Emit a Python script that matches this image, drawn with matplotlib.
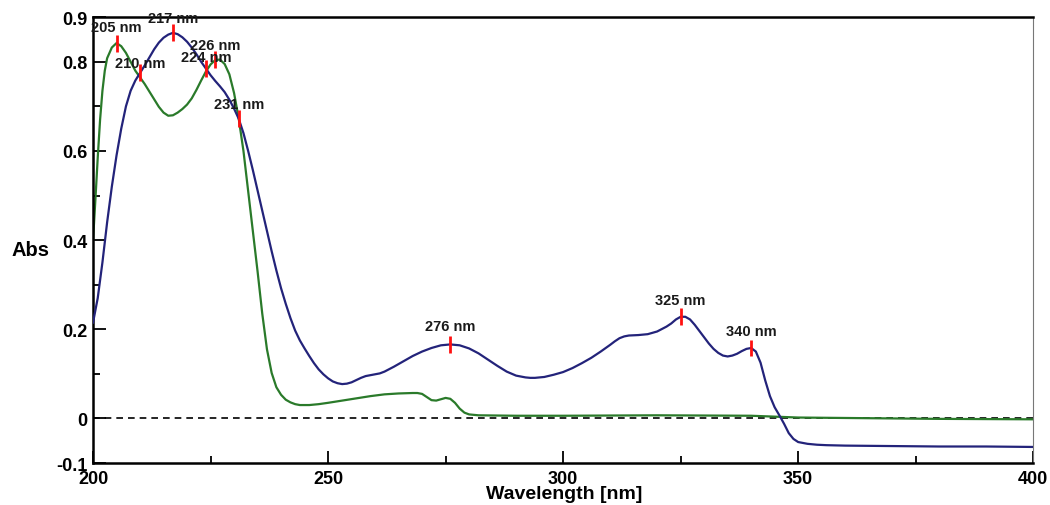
import matplotlib
matplotlib.use("Agg")
import matplotlib.pyplot as plt
from matplotlib.ticker import MultipleLocator, FixedLocator

plt.rcParams['font.family'] = ['Liberation Sans', 'DejaVu Sans']

# blue spectrum (wavelength nm, absorbance)
blue_nm = [200, 201, 202, 203, 204, 205, 206, 207, 208, 209, 210, 211, 212, 213, 214, 215,
           216, 217, 218, 219, 220, 221, 222, 223, 224, 225, 226, 227, 228, 229, 230, 231,
           232, 233, 234, 235, 236, 237, 238, 239, 240, 241, 242, 243, 244, 245, 246, 247,
           248, 249, 250, 251, 252, 253, 254, 255, 256, 257, 258, 259, 260, 261, 262, 264,
           266, 268, 270, 272, 274, 276, 278, 280, 282, 284, 286, 288, 290, 292, 293, 294,
           296, 298, 300, 302, 304, 306, 308, 310, 311, 312, 313, 314, 316, 318, 320, 322,
           323, 324, 325, 326, 327, 328, 329, 330, 331, 332, 333, 334, 335, 336, 337, 338,
           339, 340, 341, 342, 343, 344, 345, 346, 347, 348, 349, 350, 352, 354, 356, 360,
           370, 380, 390, 400]
blue_abs = [0.215, 0.27, 0.35, 0.44, 0.52, 0.59, 0.65, 0.70, 0.735, 0.758, 0.775, 0.792, 0.81, 0.828, 0.843, 0.854,
            0.861, 0.865, 0.862, 0.855, 0.845, 0.832, 0.817, 0.80, 0.785, 0.77, 0.757, 0.745, 0.732, 0.715, 0.695, 0.672,
            0.64, 0.60, 0.557, 0.512, 0.466, 0.42, 0.375, 0.332, 0.292, 0.257, 0.225, 0.197, 0.175, 0.157, 0.14, 0.124,
            0.11, 0.099, 0.09, 0.083, 0.079, 0.077, 0.078, 0.081, 0.086, 0.091, 0.095, 0.097, 0.099, 0.101, 0.105, 0.116,
            0.128, 0.14, 0.15, 0.158, 0.164, 0.166, 0.164, 0.157, 0.146, 0.132, 0.118, 0.105, 0.096, 0.092, 0.091, 0.091,
            0.093, 0.098, 0.104, 0.113, 0.124, 0.136, 0.15, 0.165, 0.173, 0.18, 0.184, 0.186, 0.187, 0.189, 0.195, 0.206,
            0.213, 0.222, 0.228, 0.228, 0.222, 0.21, 0.196, 0.182, 0.168, 0.156, 0.147, 0.141, 0.139, 0.141, 0.145, 0.151,
            0.156, 0.158, 0.15, 0.125, 0.085, 0.05, 0.025, 0.007, -0.012, -0.033, -0.046, -0.053, -0.057, -0.059, -0.060, -0.061,
            -0.062, -0.063, -0.063, -0.064]

# green spectrum
green_nm = [200, 200.5, 201, 201.5, 202, 202.5, 203, 204, 205, 206, 207, 208, 209, 210, 211, 212,
            213, 214, 215, 216, 217, 218, 219, 220, 221, 222, 223, 224, 225, 226, 227, 228,
            229, 230, 231, 232, 233, 234, 235, 236, 237, 238, 239, 240, 241, 242, 243, 244,
            246, 248, 250, 253, 256, 259, 262, 265, 268, 269, 270, 271, 272, 273, 274, 275,
            276, 277, 278, 279, 280, 282, 290, 300, 320, 340, 345, 350, 360, 370, 380, 400]
green_abs = [0.40, 0.49, 0.585, 0.67, 0.735, 0.78, 0.808, 0.832, 0.842, 0.835, 0.82, 0.80, 0.78, 0.765, 0.75, 0.733,
             0.716, 0.699, 0.686, 0.679, 0.68, 0.686, 0.694, 0.704, 0.718, 0.737, 0.758, 0.778, 0.794, 0.804, 0.805, 0.795,
             0.772, 0.73, 0.672, 0.60, 0.51, 0.42, 0.33, 0.235, 0.155, 0.102, 0.07, 0.053, 0.042, 0.036, 0.032, 0.030,
             0.030, 0.032, 0.035, 0.040, 0.045, 0.050, 0.054, 0.056, 0.057, 0.057, 0.055, 0.048, 0.041, 0.040, 0.043, 0.046,
             0.044, 0.035, 0.022, 0.013, 0.009, 0.007, 0.006, 0.006, 0.007, 0.006, 0.004, 0.002, 0.001, 0.0, -0.001, -0.002]

# peak picks: marker position, label position
peak_nm = [205, 217, 210, 226, 224, 231, 276, 325, 340]
peak_abs = [0.842, 0.865, 0.775, 0.805, 0.785, 0.672, 0.166, 0.228, 0.158]
label_abs = [0.878, 0.899, 0.797, 0.838, 0.811, 0.705, 0.207, 0.265, 0.196]

fig = plt.figure(figsize=(10.5, 5.06), dpi=100)
ax = fig.add_axes([0.0886, 0.083, 0.8954, 0.881])

ax.axhline(0, color='black', lw=1.2, ls=(0, (4, 3)), zorder=1)
ax.plot(green_nm, green_abs, color='#2a7a2a', lw=1.6, zorder=2)
ax.plot(blue_nm, blue_abs, color='#23237a', lw=1.6, zorder=3)

for x, y, ly in zip(peak_nm, peak_abs, label_abs):
    ax.plot([x, x], [y - 0.019, y + 0.019], color='#ff1010', lw=2, zorder=4, solid_capstyle='butt')
    ax.text(x, ly, f"{x} nm", ha='center', va='center', fontsize=10.5, fontweight='bold',
            color='#1a1a1a', zorder=5, clip_on=False)

ax.set_xlim(200, 400)
ax.set_ylim(-0.1, 0.9)

ax.xaxis.set_major_locator(MultipleLocator(50))
ax.xaxis.set_minor_locator(MultipleLocator(25))
ax.yaxis.set_major_locator(FixedLocator([-0.1, 0, 0.2, 0.4, 0.6, 0.8, 0.9]))
ax.yaxis.set_minor_locator(FixedLocator([0.1, 0.3, 0.5, 0.7]))
ax.set_yticklabels(['-0.1', '0', '0.2', '0.4', '0.6', '0.8', '0.9'])

ax.tick_params(which='major', direction='in', length=9, width=1.3, labelsize=13, pad=4)
ax.tick_params(axis='x', which='major', pad=5)
ax.tick_params(which='minor', direction='in', length=5, width=1.3)
for lab in ax.get_xticklabels() + ax.get_yticklabels():
    lab.set_fontweight('bold')

for side in ['left', 'bottom', 'top']:
    ax.spines[side].set_linewidth(1.8)
ax.spines['right'].set_linewidth(0.8)
ax.spines['right'].set_color('#777777')

fig.text(0.537, 0.022, "Wavelength [nm]", fontsize=14, fontweight='bold', ha='center', va='center')
fig.text(0.029, 0.505, "Abs", fontsize=14.5, fontweight='bold', ha='center', va='center')

fig.savefig("out.png", dpi=100)
